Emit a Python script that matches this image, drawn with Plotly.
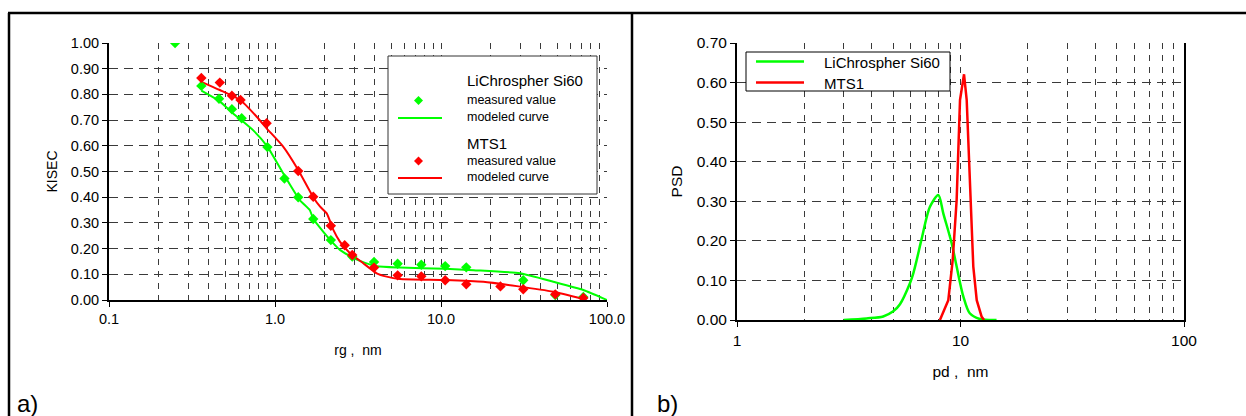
import plotly.graph_objects as go

# ---------------- data: panel a) ----------------
si60_meas_rg = [0.25, 0.36, 0.46, 0.55, 0.63, 0.90, 1.14, 1.38, 1.70, 2.17, 2.92, 3.95, 5.48, 7.61, 10.6, 14.2, 31.3, 48.8, 72.0]
si60_meas_k = [1.00, 0.833, 0.783, 0.742, 0.707, 0.595, 0.473, 0.400, 0.315, 0.233, 0.169, 0.148, 0.141, 0.137, 0.132, 0.127, 0.077, 0.019, 0.012]
si60_model_rg = [0.36, 0.46, 0.56, 0.74, 0.90, 1.12, 1.41, 1.62, 1.70, 1.95, 2.17, 2.46, 2.92, 3.25, 4.1, 5.66, 10.6, 15.7, 29.9, 47.5, 72.0, 100.0]
si60_model_k = [0.815, 0.775, 0.726, 0.660, 0.597, 0.493, 0.389, 0.350, 0.316, 0.266, 0.231, 0.195, 0.166, 0.152, 0.131, 0.126, 0.122, 0.116, 0.104, 0.071, 0.039, 0.0]

mts1_meas_rg = [0.36, 0.465, 0.55, 0.62, 0.89, 1.38, 1.70, 2.17, 2.63, 2.92, 3.95, 5.48, 7.61, 10.6, 14.2, 22.8, 31.3, 48.8, 72.0]
mts1_meas_k = [0.864, 0.846, 0.795, 0.778, 0.688, 0.502, 0.402, 0.289, 0.213, 0.175, 0.126, 0.096, 0.092, 0.077, 0.061, 0.053, 0.042, 0.022, 0.008]
mts1_model_rg = [0.36, 0.465, 0.617, 0.776, 0.89, 1.12, 1.38, 1.70, 1.87, 2.05, 2.25, 2.46, 2.83, 3.4, 4.1, 4.71, 5.66, 10.6, 18.0, 28.6, 47.5, 72.0]
mts1_model_k = [0.849, 0.817, 0.778, 0.713, 0.668, 0.597, 0.506, 0.400, 0.363, 0.337, 0.272, 0.227, 0.182, 0.143, 0.104, 0.091, 0.082, 0.078, 0.071, 0.054, 0.032, 0.004]

# ---------------- data: panel b) ----------------
si60_pd = [3.0, 3.8, 4.51, 5.0, 5.36, 5.94, 6.15, 6.37, 6.70, 7.30, 7.96, 8.38, 9.13, 9.61, 10.3, 11.0, 12.2, 14.5]
si60_psd = [0.0, 0.004, 0.009, 0.022, 0.040, 0.093, 0.118, 0.152, 0.205, 0.286, 0.316, 0.269, 0.194, 0.135, 0.059, 0.017, 0.0025, 0.0]
mts1_pd = [8.09, 8.82, 9.23, 9.61, 9.95, 10.37, 10.66, 11.0, 11.22, 11.41, 11.82, 12.44, 12.75]
mts1_psd = [0.0, 0.050, 0.152, 0.303, 0.556, 0.621, 0.556, 0.370, 0.278, 0.135, 0.050, 0.008, 0.0]

a_x_ticks = [0.1, 1, 10, 100]
a_x_text = ["0.1", "1.0", "10.0", "100.0"]
b_x_ticks = [1, 10, 100]
b_x_text = ["1", "10", "100"]

GREEN = "#00ff00"
RED = "#ff0000"
FONT = "Liberation Sans, Arial, sans-serif"
W, H = 1246, 416

fig = go.Figure()

fig.add_trace(go.Scatter(x=si60_model_rg, y=si60_model_k, mode="lines", line=dict(color=GREEN, width=2, shape="spline", smoothing=0.5),
                         xaxis="x", yaxis="y", showlegend=False, name="LiChrospher Si60 modeled curve"))
fig.add_trace(go.Scatter(x=mts1_model_rg, y=mts1_model_k, mode="lines", line=dict(color=RED, width=2, shape="spline", smoothing=0.5),
                         xaxis="x", yaxis="y", showlegend=False, name="MTS1 modeled curve"))
fig.add_trace(go.Scatter(x=si60_meas_rg, y=si60_meas_k, mode="markers",
                         marker=dict(symbol="diamond", color=GREEN, size=8, line=dict(width=0)),
                         xaxis="x", yaxis="y", showlegend=False, name="LiChrospher Si60 measured value"))
fig.add_trace(go.Scatter(x=mts1_meas_rg, y=mts1_meas_k, mode="markers",
                         marker=dict(symbol="diamond", color=RED, size=8, line=dict(width=0)),
                         xaxis="x", yaxis="y", showlegend=False, name="MTS1 measured value"))

fig.add_trace(go.Scatter(x=si60_pd, y=si60_psd, mode="lines", line=dict(color=GREEN, width=2.5, shape="spline", smoothing=0.8),
                         xaxis="x2", yaxis="y2", showlegend=False, name="LiChrospher Si60"))
fig.add_trace(go.Scatter(x=mts1_pd, y=mts1_psd, mode="lines", line=dict(color=RED, width=2.5),
                         xaxis="x2", yaxis="y2", showlegend=False, name="MTS1"))

def px(x):
    return x / W

def py(y):
    return 1 - y / H

GRIDC = "#3a3a3a"
grid = dict(showgrid=True, gridcolor=GRIDC, gridwidth=1)
tick_a = dict(family=FONT, size=14.5, color="black")
title_a = dict(family=FONT, size=14, color="black")
tick_b = dict(family=FONT, size=15.5, color="black")
title_b = dict(family=FONT, size=15.5, color="black")

fig.update_layout(
    width=W, height=H, autosize=False,
    margin=dict(l=0, r=0, t=0, b=0, pad=0),
    paper_bgcolor="white", plot_bgcolor="white",
    font=dict(family=FONT, color="black"),
    xaxis=dict(type="log", range=[-1, 2], domain=[px(109), px(607)], anchor="y", automargin=False,
               tickvals=a_x_ticks, ticktext=a_x_text, ticks="outside", ticklen=5, tickcolor="black",
               showline=True, linecolor="black", linewidth=2, zeroline=False,
               griddash="6px,6px", **grid,
               minor=dict(dtick="D1", showgrid=True, gridcolor=GRIDC, griddash="6px,6px", ticks=""),
               tickfont=tick_a, title=dict(text="rg ,  nm", font=title_a, standoff=19)),
    yaxis=dict(range=[0, 1], domain=[py(300), py(43)], anchor="x", dtick=0.1, tickformat=".2f", automargin=False,
               ticks="outside", ticklen=5, tickcolor="black",
               showline=True, linecolor="black", linewidth=2, zeroline=False,
               griddash="9px,6px", **grid,
               tickfont=tick_a, title=dict(text="KISEC", font=title_a, standoff=10)),
    xaxis2=dict(type="log", range=[0, 2], domain=[px(737), px(1184)], anchor="y2", automargin=False,
                tickvals=b_x_ticks, ticktext=b_x_text, ticks="outside", ticklen=5, tickcolor="black",
                showline=True, linecolor="black", linewidth=2, zeroline=False,
                griddash="6px,6px", **grid,
                minor=dict(dtick="D1", showgrid=True, gridcolor=GRIDC, griddash="6px,6px", ticks=""),
                tickfont=tick_b, title=dict(text="pd ,  nm", font=title_b, standoff=19)),
    yaxis2=dict(range=[0, 0.7], domain=[py(320), py(43)], anchor="x2", dtick=0.1, tickformat=".2f", automargin=False,
                ticks="outside", ticklen=5, tickcolor="black",
                showline=True, linecolor="black", linewidth=2, mirror=True, zeroline=False,
                griddash="9px,6px", **grid,
                tickfont=tick_b, title=dict(text="PSD", font=title_b, standoff=10)),
)

shapes = []
# outer frame
shapes.append(dict(type="line", xref="paper", yref="paper", x0=px(8), x1=1, y0=py(13), y1=py(13),
                   line=dict(color="black", width=2.5)))
shapes.append(dict(type="line", xref="paper", yref="paper", x0=px(9), x1=px(9), y0=py(13), y1=0,
                   line=dict(color="black", width=2.5)))
shapes.append(dict(type="line", xref="paper", yref="paper", x0=px(632), x1=px(632), y0=py(13), y1=0,
                   line=dict(color="black", width=2.5)))

# legend a)
shapes.append(dict(type="rect", xref="paper", yref="paper", x0=px(388), x1=px(597), y0=py(194), y1=py(56),
                   line=dict(color="#333333", width=1), fillcolor="white", layer="above"))
for yc, col in [(118, GREEN), (178, RED)]:
    shapes.append(dict(type="line", xref="paper", yref="paper", x0=px(398), x1=px(442), y0=py(yc), y1=py(yc),
                       line=dict(color=col, width=2), layer="above"))
for yc, col in [(100.5, GREEN), (161, RED)]:
    cx, r = 418.5, 4.5
    path = (f"M {px(cx)} {py(yc - r)} L {px(cx + r)} {py(yc)} L {px(cx)} {py(yc + r)} "
            f"L {px(cx - r)} {py(yc)} Z")
    shapes.append(dict(type="path", xref="paper", yref="paper", path=path,
                       fillcolor=col, line=dict(color=col, width=0), layer="above"))

# legend b)
shapes.append(dict(type="rect", xref="paper", yref="paper", x0=px(746), x1=px(950), y0=py(91), y1=py(52),
                   line=dict(color="black", width=1), fillcolor="white", layer="above"))
for yc, col in [(61.5, GREEN), (82.5, RED)]:
    shapes.append(dict(type="line", xref="paper", yref="paper", x0=px(756), x1=px(804), y0=py(yc), y1=py(yc),
                       line=dict(color=col, width=2.5), layer="above"))

fig.update_layout(shapes=shapes)

ann = []
def text(x, y, s, size, anchor="left"):
    ann.append(dict(x=px(x), y=py(y), xref="paper", yref="paper", text=s, showarrow=False,
                    xanchor=anchor, yanchor="middle", font=dict(family=FONT, size=size, color="black")))

text(465, 81, "LiChrospher Si60", 15)
text(465, 100.5, "measured value", 12.5)
text(465, 117, "modeled curve", 12.5)
text(465, 143, "MTS1", 15)
text(465, 161, "measured value", 12.5)
text(465, 176.5, "modeled curve", 12.5)

text(822, 62, "LiChrospher Si60", 15)
text(822, 83, "MTS1", 15)

text(15, 403, "a)", 24)
text(655, 403, "b)", 24)

fig.update_layout(annotations=ann)

fig.write_html("out.html", config={"displayModeBar": False},
               post_script="document.body.style.margin='0';document.body.style.overflow='hidden';")
